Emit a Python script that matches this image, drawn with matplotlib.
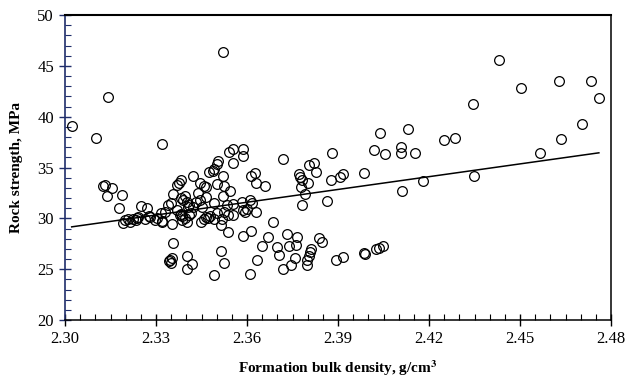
import numpy as np
import matplotlib
matplotlib.use("Agg")
import matplotlib.pyplot as plt
from matplotlib.ticker import MultipleLocator, FormatStrFormatter

# formation bulk density (g/cm3) and rock strength (MPa)
density = [
    2.3022, 2.3101, 2.3142, 2.3126, 2.3133, 2.3154, 2.3139, 2.3189, 2.3177, 2.3192,
    2.3199, 2.3215, 2.3223, 2.3233, 2.3238, 2.3250, 2.3271, 2.3264, 2.3278, 2.3281,
    2.3297, 2.3302, 2.3209, 2.3240, 2.3319,
    2.3318, 2.3330, 2.3321, 2.3319, 2.3340, 2.3348, 2.3355, 2.3352, 2.3355, 2.3347,
    2.3352, 2.3343, 2.3350, 2.3368, 2.3375, 2.3382, 2.3381, 2.3389, 2.3396, 2.3368,
    2.3382, 2.3402, 2.3409, 2.3404, 2.3386, 2.3396, 2.3403, 2.3410, 2.3414, 2.3401,
    2.3420, 2.3402, 2.3379, 2.3387,
    2.3422, 2.3445, 2.3458, 2.3465, 2.3439, 2.3432, 2.3452, 2.3465, 2.3449, 2.3458,
    2.3466, 2.3471, 2.3491, 2.3476, 2.3487, 2.3492, 2.3500, 2.3504, 2.3520, 2.3502,
    2.3524, 2.3544, 2.3520, 2.3492, 2.3500, 2.3524, 2.3518, 2.3515, 2.3536, 2.3513,
    2.3523, 2.3491, 2.3520, 2.3445, 2.3478, 2.3423,
    2.3542, 2.3555, 2.3587, 2.3588, 2.3555, 2.3555, 2.3553, 2.3584, 2.3586, 2.3601,
    2.3586, 2.3533, 2.3538, 2.3593,
    2.3610, 2.3617, 2.3631, 2.3612, 2.3627, 2.3630, 2.3660, 2.3613, 2.3610, 2.3633,
    2.3650, 2.3670, 2.3686,
    2.3720, 2.3731, 2.3764, 2.3700, 2.3738, 2.3762, 2.3707, 2.3759, 2.3745, 2.3717,
    2.3772, 2.3776, 2.3780, 2.3800, 2.3778, 2.3792, 2.3780, 2.3804, 2.3821, 2.3826,
    2.3836, 2.3848, 2.3812, 2.3808, 2.3803, 2.3797, 2.3797, 2.3863, 2.3880, 2.3878,
    2.3895, 2.3915, 2.3906, 2.3918,
    2.3986, 2.3986, 2.3988, 2.4024, 2.4035, 2.4047, 2.4018, 2.4040, 2.4056, 2.4108,
    2.4107, 2.4110, 2.4130, 2.4155, 2.4181, 2.4249, 2.4286, 2.4346, 2.4349, 2.4432,
    2.4502, 2.4566, 2.4630, 2.4636, 2.4704, 2.4733, 2.4760,
]
strength = [
    39.1, 37.9, 41.9, 33.2, 33.3, 33.0, 32.2, 32.3, 31.0, 29.5,
    29.8, 29.6, 29.9, 29.8, 30.0, 31.2, 31.0, 29.9, 30.2, 30.1,
    29.8, 30.0, 29.9, 30.1, 29.7,
    30.5, 30.65, 29.6, 37.3, 31.3, 31.5, 32.4, 29.4, 27.6, 25.9,
    26.05, 25.8, 25.65, 33.3, 33.5, 33.8, 32.0, 31.8, 32.2, 30.8,
    30.4, 31.6, 31.3, 31.15, 30.2, 30.0, 29.6, 30.3, 30.5, 26.3,
    25.5, 25.0, 30.3, 29.85,
    34.2, 33.5, 33.15, 33.05, 32.5, 31.6, 31.15, 32.1, 29.6, 29.9,
    30.1, 30.0, 29.9, 34.55, 34.65, 34.85, 35.3, 35.6, 34.15, 33.35,
    33.2, 32.7, 32.15, 31.5, 30.55, 30.65, 29.9, 29.35, 28.65, 26.8,
    25.65, 24.45, 46.4, 31.8, 30.2, 31.15,
    36.55, 36.8, 36.85, 36.15, 35.45, 31.4, 30.3, 31.65, 30.8, 30.9,
    28.25, 31.3, 30.3, 30.65,
    31.8, 31.55, 30.6, 34.2, 34.5, 33.45, 33.15, 28.8, 24.5, 25.9,
    27.25, 28.15, 29.65,
    35.8, 28.45, 28.2, 27.15, 27.25, 27.35, 26.4, 26.1, 25.45, 25.0,
    34.35, 34.1, 33.8, 33.5, 33.05, 32.4, 31.35, 35.2, 35.4, 34.55,
    28.1, 27.7, 26.95, 26.65, 26.3, 25.9, 25.4, 31.7, 36.45, 33.75,
    25.9, 26.2, 34.05, 34.35,
    34.5, 26.6, 26.45, 27.0, 27.1, 27.3, 36.7, 38.4, 36.35, 37.05,
    36.4, 32.65, 38.75, 36.4, 33.65, 37.7, 37.9, 41.2, 34.2, 45.6,
    42.85, 36.45, 43.55, 37.8, 39.25, 43.5, 41.85,
]

# trend line as drawn on the original chart
trend_slope = 41.9
trend_intercept = -67.30

x_ticks = [2.30, 2.33, 2.36, 2.39, 2.42, 2.45, 2.48]
y_ticks = [20, 25, 30, 35, 40, 45, 50]

NAVY = "#1f2d6b"
SERIF = ["Liberation Serif", "DejaVu Serif"]

plt.rcParams["font.family"] = SERIF
plt.rcParams["mathtext.fontset"] = "stix"

fig = plt.figure(figsize=(6.27, 3.82), dpi=100, facecolor="white")
ax = fig.add_axes([0.1037, 0.1623, 0.8708, 0.7984])

ax.plot(density, strength, linestyle="none", marker="o", markersize=7.0,
        markerfacecolor="none", markeredgecolor="black", markeredgewidth=0.9)

x_line = np.array([min(density), max(density)])
ax.plot(x_line, trend_slope * x_line + trend_intercept, color="black", linewidth=1.1)

ax.set_xlim(2.30, 2.48)
ax.set_ylim(20, 50)
ax.set_xticks(x_ticks)
ax.set_yticks(y_ticks)
ax.xaxis.set_major_formatter(FormatStrFormatter("%.2f"))
ax.xaxis.set_minor_locator(MultipleLocator(0.005))
ax.yaxis.set_minor_locator(MultipleLocator(1))

ax.tick_params(axis="x", which="major", direction="inout", length=8, width=1.0,
               colors="black", labelsize=12, pad=4)
ax.tick_params(axis="x", which="minor", direction="in", length=4, width=0.8, colors="black")
ax.tick_params(axis="y", which="major", direction="inout", length=8, width=1.0,
               color=NAVY, labelcolor="black", labelsize=12, pad=4)
ax.tick_params(axis="y", which="minor", direction="in", length=4, width=0.8, color=NAVY)

for side in ["top", "right", "bottom"]:
    ax.spines[side].set_color("black")
    ax.spines[side].set_linewidth(1.1)
ax.spines["top"].set_linewidth(1.5)
ax.spines["left"].set_color(NAVY)
ax.spines["left"].set_linewidth(1.2)

ax.set_xlabel("Formation bulk density, g/cm$^\\mathbf{3}$", fontsize=11, fontweight="bold",
              labelpad=8)
ax.set_ylabel("Rock strength, MPa", fontsize=11, fontweight="bold", labelpad=10)

fig.savefig("out.png", dpi=100)
